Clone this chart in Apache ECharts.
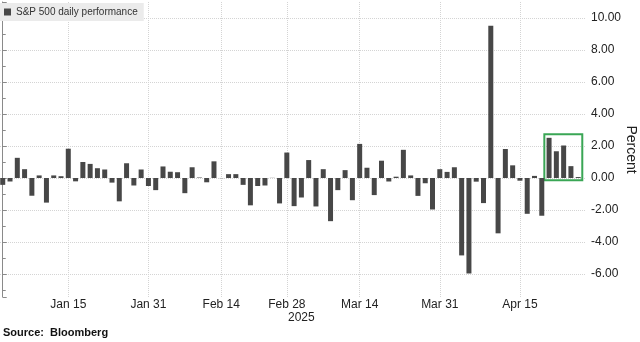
<!DOCTYPE html>
<html><head><meta charset="utf-8">
<script src="https://cdn.jsdelivr.net/npm/echarts@6/dist/echarts.min.js"></script>
<style>html,body{margin:0;padding:0;background:#fff}#c{width:640px;height:342px}</style>
</head><body><div id="c"></div>
<script>
const dates = ['Dec 31','Jan 2','Jan 3','Jan 6','Jan 7','Jan 8','Jan 10','Jan 13','Jan 14','Jan 15',
  'Jan 16','Jan 17','Jan 21','Jan 22','Jan 23','Jan 24','Jan 27','Jan 28','Jan 29','Jan 30','Jan 31',
  'Feb 3','Feb 4','Feb 5','Feb 6','Feb 7','Feb 10','Feb 11','Feb 12','Feb 13','Feb 14',
  'Feb 18','Feb 19','Feb 20','Feb 21','Feb 24','Feb 25','Feb 26','Feb 27','Feb 28',
  'Mar 3','Mar 4','Mar 5','Mar 6','Mar 7','Mar 10','Mar 11','Mar 12','Mar 13','Mar 14',
  'Mar 17','Mar 18','Mar 19','Mar 20','Mar 21','Mar 24','Mar 25','Mar 26','Mar 27','Mar 28','Mar 31',
  'Apr 1','Apr 2','Apr 3','Apr 4','Apr 7','Apr 8','Apr 9','Apr 10','Apr 11','Apr 14','Apr 15',
  'Apr 16','Apr 17','Apr 21','Apr 22','Apr 23','Apr 24','Apr 25','Apr 28'];
const values = [-0.43,-0.22,1.26,0.55,-1.11,0.16,-1.54,0.16,0.11,1.83,
  -0.21,1.00,0.88,0.61,0.53,-0.29,-1.46,0.92,-0.47,0.53,-0.50,
  -0.76,0.72,0.39,0.36,-0.95,0.67,0.03,-0.27,1.04,-0.01,
  0.24,0.24,-0.43,-1.71,-0.50,-0.47,0.01,-1.59,1.59,
  -1.76,-1.22,1.12,-1.78,0.55,-2.70,-0.76,0.49,-1.39,2.13,
  0.64,-1.07,1.08,-0.22,0.08,1.76,0.16,-1.12,-0.33,-1.97,0.55,
  0.38,0.67,-4.84,-5.97,-0.23,-1.57,9.52,-3.46,1.81,0.79,-0.17,
  -2.24,0.13,-2.36,2.51,1.67,2.03,0.74,0.06];
const tickLabels = ['Jan 15','Jan 31','Feb 14','Feb 28','Mar 14','Mar 31','Apr 15'];
const yearLabel = '2025';
const seriesName = 'S&P 500 daily performance';
const yAxisName = 'Percent';
const sourceText = 'Source:  Bloomberg';
const highlight = [74.35, -0.14, 79.56, 2.73];

const tickIdx = tickLabels.map(l => dates.indexOf(l));
const FONT = 'Liberation Sans';

const chart = echarts.init(document.getElementById('c'), null, {renderer: 'canvas'});
chart.setOption({
  animation: false,
  textStyle: {fontFamily: FONT},
  grid: {left: 0, right: 54, top: 2, bottom: 45, outerBoundsMode: 'none', containLabel: false},
  legend: {
    show: true, left: 0, top: 3, padding: [4, 6, 4, 4],
    backgroundColor: '#ebebeb', icon: 'rect', itemWidth: 7, itemHeight: 7,
    textStyle: {fontSize: 10, color: '#333', fontFamily: FONT},
    selectedMode: false, data: [seriesName]
  },
  xAxis: {
    type: 'value', min: -0.375, max: 80.07,
    axisLine: {show: false}, axisTick: {show: false}, splitLine: {show: false},
    axisLabel: {
      customValues: tickIdx, margin: 2, fontSize: 12, color: '#222', fontFamily: FONT,
      formatter: v => { const k = tickIdx.indexOf(Math.round(v)); return k >= 0 ? tickLabels[k] : ''; }
    }
  },
  yAxis: {
    type: 'value', position: 'right', min: -7.44, max: 11, splitNumber: 9,
    name: yAxisName, nameLocation: 'middle', nameRotate: -90, nameGap: 38, nameMoveOverlap: false,
    nameTextStyle: {fontSize: 14, color: '#222', fontFamily: FONT},
    axisLine: {show: true, lineStyle: {color: '#8a8a8a', width: 1}},
    axisTick: {show: true, inside: false, length: 4, lineStyle: {color: '#8a8a8a'}},
    minorTick: {show: true, splitNumber: 2, length: 3, lineStyle: {color: '#8a8a8a'}},
    axisLabel: {margin: 5, fontSize: 12, color: '#222', fontFamily: FONT,
      showMinLabel: false, showMaxLabel: false, formatter: v => v.toFixed(2)},
    splitLine: {show: true, showMinLine: false, showMaxLine: false,
      lineStyle: {color: '#d4d4d4', type: 'dotted', width: 1}}
  },
  series: [{
    name: 'grid-x', type: 'line', data: [], z: 0, silent: true,
    markLine: {
      silent: true, symbol: ['none', 'none'], label: {show: false}, z: 0,
      lineStyle: {color: '#d4d4d4', type: 'dotted', width: 1},
      emphasis: {disabled: true},
      data: tickIdx.map(i => ({xAxis: i}))
    }
  }, {
    name: seriesName, type: 'bar', barWidth: 5, z: 3,
    itemStyle: {color: '#474747'},
    data: values.map((v, i) => [i, v]),
    markArea: {
      silent: true, label: {show: false},
      itemStyle: {color: 'rgba(0,0,0,0)', borderColor: '#3aa655', borderWidth: 2},
      data: [[{xAxis: highlight[0], yAxis: highlight[1]}, {xAxis: highlight[2], yAxis: highlight[3]}]]
    }
  }],
  graphic: [
    {type: 'text', left: 288, top: 312, style: {text: yearLabel, font: '12px "Liberation Sans"', fill: '#222'}},
    {type: 'text', left: 3, top: 327, style: {text: sourceText, font: 'bold 11px "Liberation Sans"', fill: '#111'}}
  ]
});
</script></body></html>
